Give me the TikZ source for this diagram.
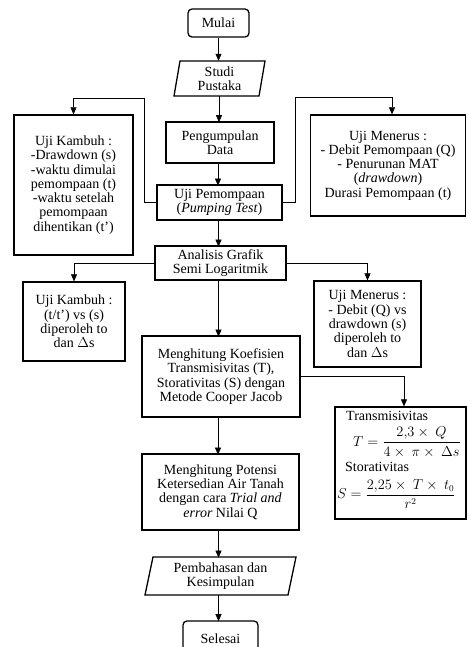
\documentclass[tikz,border=0pt]{standalone}
\usepackage{amsmath}
\usepackage{fontspec}
\setmainfont{Liberation Serif}
\usetikzlibrary{arrows.meta}
\begin{document}
\begin{tikzpicture}[x=1pt,y=-1pt,
  font=\fontsize{14}{14.3}\selectfont,
  box/.style={draw, line width=1.3pt, align=center, inner sep=0pt},
  rbox/.style={box, rounded corners=4pt},
  txt/.style={align=center, inner sep=0pt},
  ftxt/.style={inner sep=0pt, anchor=west},
  fmath/.style={inner sep=0pt, anchor=west, font=\fontsize{13.5}{15}\selectfont},
  shp/.style={line width=1.3pt},
  arr/.style={-{Triangle[length=7pt,width=6pt]}, line width=0.6pt}]
\useasboundingbox (0,0) rectangle (467,647);
\clip (0,0) rectangle (467,647);
% main column
\node[rbox, minimum width=61pt, minimum height=28pt] (mulai) at (218.5,23) {Mulai};
\node[txt, minimum width=85pt, minimum height=35pt] (studi) at (219.5,78.5) {Studi\\Pustaka};
\draw[shp] (180,61) -- (265,61) -- (259,96) -- (174,96) -- cycle;
\node[box, minimum width=108pt, minimum height=41pt] (peng) at (220,142.5) {Pengumpulan\\Data};
\node[box, minimum width=125pt, minimum height=35pt] (pemp) at (219.5,202.5) {Uji Pemompaan\\(\textit{Pumping Test})};
\node[box, minimum width=131pt, minimum height=34pt] (anal) at (220.5,263) {Analisis Grafik\\Semi Logaritmik};
\node[box, minimum width=158pt, minimum height=81pt] (koef) at (221,376.5) {Menghitung Koefisien\\Transmisivitas (T),\\Storativitas (S) dengan\\Metode Cooper Jacob};
\node[box, minimum width=157pt, minimum height=76pt] (pot) at (220.5,492) {Menghitung Potensi\\Ketersedian Air Tanah\\dengan cara \textit{Trial and}\\\textit{error} Nilai Q};
\node[txt, minimum width=143pt, minimum height=38pt] (bahas) at (220.5,576) {Pembahasan dan\\Kesimpulan};
\draw[shp] (153,557) -- (296,557) -- (288,595) -- (145,595) -- cycle;
\node[rbox, minimum width=75pt, minimum height=36pt] (selesai) at (220.5,639) {Selesai};
% side boxes
\node[box, minimum width=119pt, minimum height=140pt] (kamb1) at (73.5,185) {Uji Kambuh :\\-Drawdown (s)\\-waktu dimulai\\pemompaan (t)\\-waktu setelah\\pemompaan\\dihentikan (t’)};
\node[box, minimum width=155pt, minimum height=101pt] (mener1) at (388,165.5) {Uji Menerus :\\- Debit Pemompaan (Q)\\- Penurunan MAT\\(\textit{drawdown})\\Durasi Pemompaan (t)};
\node[box, minimum width=102pt, minimum height=79pt] (kamb2) at (74,321.5) {Uji Kambuh :\\(t/t’) vs (s)\\diperoleh to\\dan $\Delta$s};
\node[box, minimum width=107pt, minimum height=86pt] (mener2) at (367.5,324) {Uji Menerus :\\- Debit (Q) vs\\drawdown (s)\\diperoleh to\\dan $\Delta$s};
\node[box, minimum width=131pt, minimum height=112pt] (form) at (400.5,463) {};
\node[ftxt] (ftrans) at (346,416) {Transmisivitas};
\node[fmath] (fT) at (353,442) {$T=\dfrac{2{,}3\times\ Q}{4\times\ \pi\times\ \Delta s}$};
\node[ftxt] (fstor) at (345,467) {Storativitas};
\node[fmath] (fS) at (337,494) {$S=\dfrac{2{,}25\times\ T\times\ t_0}{r^2}$};
% connectors
\draw[arr] (mulai.south) -- (mulai.south |- studi.north);
\draw[arr] (studi.south -| peng.north) ++(-1,0) -- ++(0,26);
\draw[arr] (peng.south) ++(-2,0) -- ++(0,22);
\draw[arr] (pemp.south) ++(-1,0) -- ++(0,26);
\draw[arr] (anal.south) ++(-2,0) -- ++(0,56);
\draw[arr] (koef.south) ++(-3,0) -- ++(0,37);
\draw[arr] (pot.south) ++(-2,0) -- ++(0,27);
\draw[arr] (bahas.south) ++(-2,0) -- ++(0,26);
\coordinate (lk) at (144,98);
\coordinate (rk) at (295,97);
\draw[arr] (pemp.west) -| (lk) -| (kamb1.north);
\draw[arr] (pemp.east) -| (rk) -| ([xshift=4pt]mener1.north);
\draw[arr] (anal.west) -| (kamb2.north);
\draw[arr] (anal.east) -| (mener2.north);
\draw[arr] (koef.east) -| ([xshift=3.5pt]form.north);
\end{tikzpicture}
\end{document}
